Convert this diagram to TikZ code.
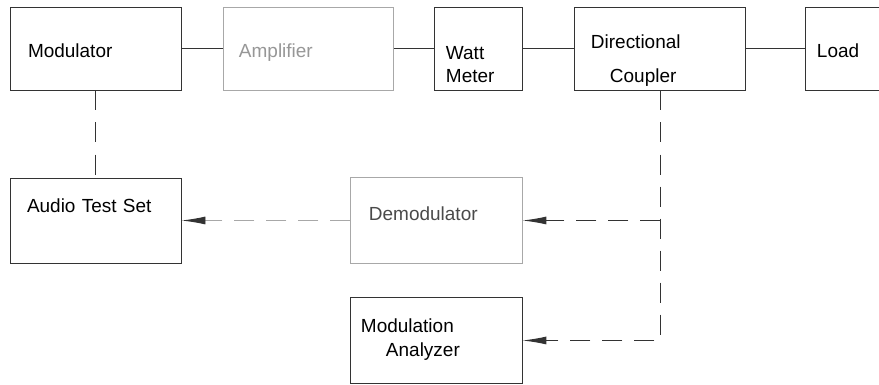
\documentclass[tikz,border=0pt]{standalone}
\usepackage{fontspec}
\setmainfont{Liberation Sans}
\usepackage{xcolor}
\usepackage{tikz}
\usetikzlibrary{arrows.meta, positioning}
\definecolor{ink}{HTML}{333333}
\definecolor{faint}{HTML}{A8A8A8}
\definecolor{dim}{HTML}{4A4A4A}
\tikzset{
    box/.style={rectangle, draw=ink, line width=0.7pt, minimum width=4.275cm, minimum height=2.075cm, inner sep=0pt, align=left, text=black, font=\fontsize{13.5}{17}\selectfont, text height=13.5pt, text depth=0pt},
    feed/.style={draw=ink, line width=0.7pt},
    probe/.style={draw=ink, line width=0.7pt, dash pattern=on 0.5cm off 0.3cm},
    probearrow/.style={probe, -{Latex[length=0.6cm, width=0.2cm, color=ink]}}
}
\begin{document}
\begin{tikzpicture}
    \clip (0,0) rectangle (21.975,-9.6);
    % main RF chain
    \node [box, text width=3.375cm] (mod) at (2.3875,-1.2125) {Modulator};
    \node [box, draw=faint, text=faint!90!black, minimum width=4.25cm, text width=3.5cm, right=1.05cm of mod] (amp) {Amplifier};
    \node [box, minimum width=2.2cm, text width=1.65cm, text height=32pt, text depth=17pt, right=1cm of amp] (watt) {Watt\\Meter};
    \node [box, text width=3.475cm, text height=24.5pt, text depth=24pt, right=1.275cm of watt] (dc) {Directional\\[7pt]\hspace*{0.475cm}Coupler};
    \node [box, minimum width=2.5cm, text width=1.95cm, right=1.475cm of dc] (load) {Load};

    % measuring side
    \node [box, minimum height=2.125cm, text width=3.425cm, text height=6pt, text depth=18pt, below=2.175cm of mod] (ats) {Audio Test Set};
    \node [box, draw=faint, text=dim, minimum height=2.15cm, text width=3.375cm, text height=8pt, text depth=8pt, right=4.225cm of ats] (dem) {Demodulator};
    \node [box, minimum height=2.15cm, text width=3.775cm, text height=5.6pt, text depth=17pt, below=0.825cm of dem] (ma) {Modulation\\\hspace*{0.625cm}Analyzer};
    \coordinate (tap) at (dc.south |- dem.east);

    \draw [feed] (mod) -- (amp);
    \draw [feed] (amp) -- (watt);
    \draw [feed] (watt) -- (dc);
    \draw [feed] (dc) -- (load);
    \draw [probe] (mod) -- (ats);
    \draw [probearrow] (dc.south) |- (ma.east);
    \draw [probearrow] (tap) -- (dem.east);
    \draw [probearrow, draw=faint] (dem) -- (ats);
\end{tikzpicture}
\end{document}
